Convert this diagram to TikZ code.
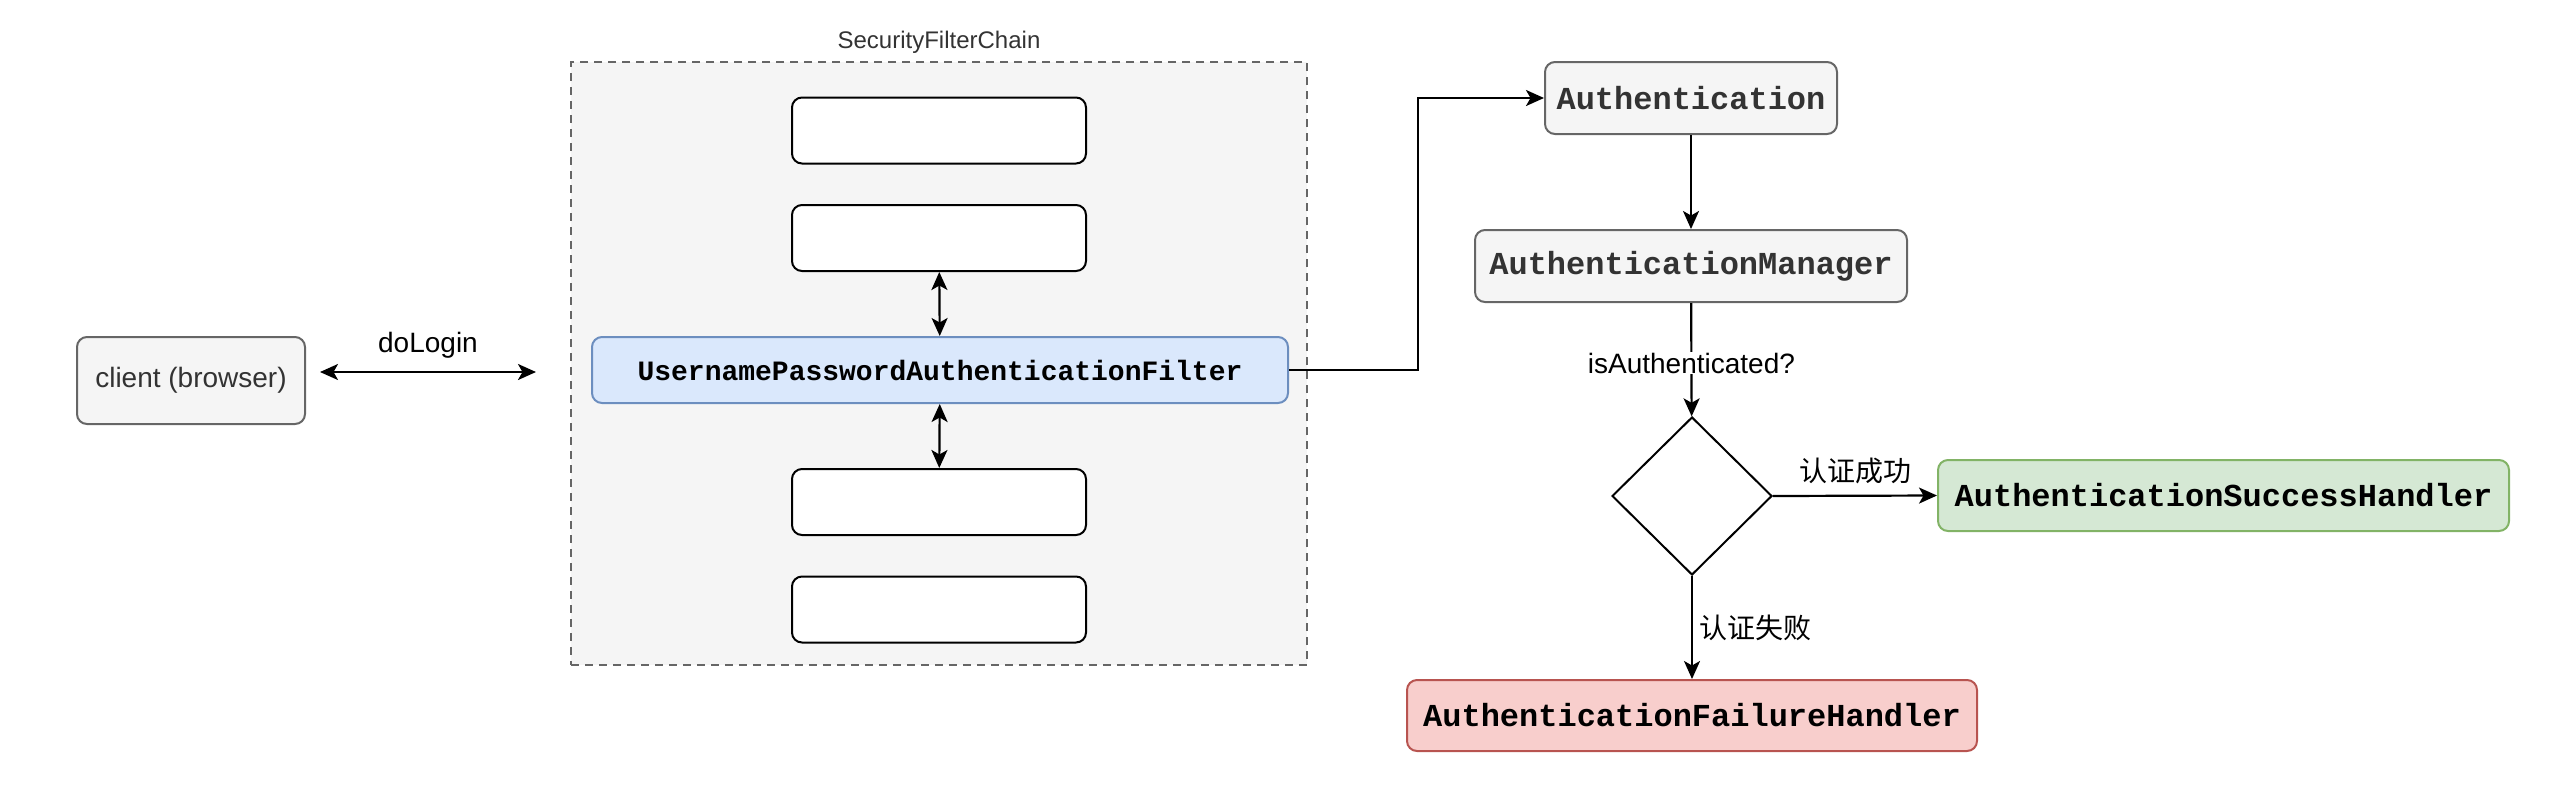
\documentclass[tikz,border=0pt]{standalone}
\usepackage{fontspec}
\setmainfont{Liberation Sans}
\newfontfamily\codefont{Liberation Mono}
\newfontfamily\cjk{Noto Sans CJK SC}
\usepackage{xcolor}
\usetikzlibrary{arrows.meta}
\usetikzlibrary{shapes.geometric}
\definecolor{greyfill}{HTML}{F5F5F5}
\definecolor{greyline}{HTML}{666666}
\definecolor{greytext}{HTML}{333333}
\definecolor{bluefill}{HTML}{DAE8FC}
\definecolor{blueline}{HTML}{6C8EBF}
\definecolor{greenfill}{HTML}{D5E8D4}
\definecolor{greenline}{HTML}{82B366}
\definecolor{redfill}{HTML}{F8CECC}
\definecolor{redline}{HTML}{B85450}
\tikzset{cbox/.style 2 args={draw=#1,fill=#2,rounded corners=10pt,line width=2pt,inner sep=0pt},
  ctext/.style={font=\fontsize{#1}{#1}\selectfont},
  ccode/.style={font=\fontsize{#1}{#1}\selectfont\codefont\bfseries},
  cedge/.style={draw=black,line width=2.2pt}
}

\begin{document}
\begin{tikzpicture}[x=1pt,y=-1pt,>={Stealth[length=18pt,width=16pt,inset=4.5pt]}]
  \useasboundingbox (0,0) rectangle (2556,788);
  % filter chain frame
  \node[cbox={greyline}{greyfill}, sharp corners, dash pattern=on 8pt off 6pt,
        minimum width=736pt, minimum height=603pt,
        label={[ctext=24, text=greytext, inner sep=0pt, label distance=7pt]above:SecurityFilterChain}]
        (chain) at (939,363.5) {};
  \begin{scope}[every node/.style={minimum height=66pt}]
    \node[cbox={greyline}{greyfill}, ctext=28, text=greytext, minimum width=228pt, minimum height=87pt] (client) at (191,380.5) {client (browser)};
    \node[cbox={black}{white}, minimum width=294pt] (f1) at (939,130.5) {};
    \node[cbox={black}{white}, minimum width=294pt] (f2) at (939,238) {};
    \node[cbox={blueline}{bluefill}, ccode=28, minimum width=696pt] (upaf) at (940,370) {UsernamePasswordAuthenticationFilter};
    \node[cbox={black}{white}, minimum width=294pt] (f3) at (939,502) {};
    \node[cbox={black}{white}, minimum width=294pt] (f4) at (939,609.5) {};
    \node[cbox={greyline}{greyfill}, ccode=32, text=greytext, minimum width=292pt, minimum height=72pt] (auth) at (1691,98) {Authentication};
    \node[cbox={greyline}{greyfill}, ccode=32, text=greytext, minimum width=432pt, minimum height=72pt] (mgr) at (1691,266) {AuthenticationManager};
    \node[diamond, draw=black, fill=white, line width=2pt, inner sep=0pt, minimum width=160pt, minimum height=158pt] (dec) at (1692,496) {};
    \node[cbox={greenline}{greenfill}, ccode=32, minimum width=571pt, minimum height=71pt] (succ) at (2223.5,495.5) {AuthenticationSuccessHandler};
    \node[cbox={redline}{redfill}, ccode=32, minimum width=570pt, minimum height=71pt] (fail) at (1692,715.5) {AuthenticationFailureHandler};
  \end{scope}
  \coordinate (req) at (320,372);
  \coordinate (login) at (536,372);
  \begin{scope}[every edge/.style={cedge}]
    \path [<->] (req) edge node[above=13pt, inner sep=0pt, ctext=28] {doLogin} (login);
    \path [<->] (f2) edge (upaf);
    \path [<->] (upaf) edge (f3);
    \draw [->, cedge] (upaf.east) -- ++(129,0) |- (auth.west);
    \path [->] (auth) edge (mgr);
    \path [->] (mgr) edge node[pos=0.53, fill=white, inner sep=1pt, ctext=28] {isAuthenticated?} (dec);
    \path [->] (dec.east) edge node[above=11pt, inner sep=0pt, ctext=28] {\cjk 认证成功} (succ.west);
    \path [->] (dec.south) edge node[right=6pt, inner sep=0pt, ctext=28] {\cjk 认证失败} (fail.north);
  \end{scope}
\end{tikzpicture}
\end{document}
